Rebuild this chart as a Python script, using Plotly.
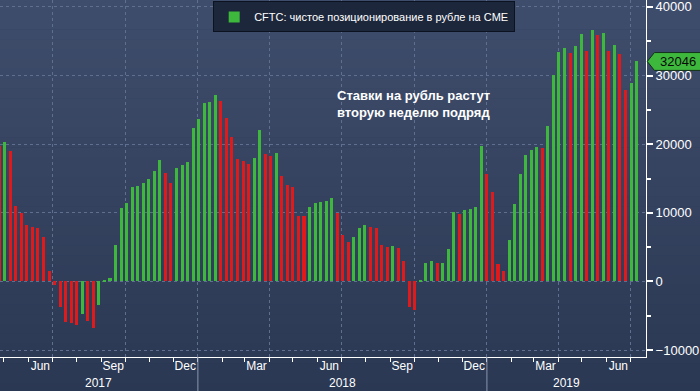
import plotly.graph_objects as go
import pandas as pd

# ---------------- data ----------------
week_start = "2017-04-25"
values = [19750, 20330, 19030, 11060, 10000, 8160, 7870, 7730, 6470, 1500,
          -530, -3670, -5840, -6090, -6330, -4730, -5700, -6710, -3430, 150,
          480, 5310, 10670, 11500, 13810, 13960, 14390, 14880, 16040, 17730,
          15840, 14390, 16570, 17000, 17440, 22360, 23670, 25990, 26130, 27150,
          26280, 23810, 21060, 17870, 17580, 17150, 18020, 22070, 18600, 18310,
          18740, 15410, 14100, 13810, 9610, 9470, 10920, 11500, 11640, 11790,
          12220, 9950, 6710, 5700, 6420, 7730, 8160, 7870, 7730, 5260,
          4970, 5120, 4830, 2950, -3670, -4150, 150, 2700, 2950, 2650,
          2700, 4690, 10050, 9760, 10340, 10530, 10820, 19800, 15700, 13090,
          2510, 1500, 5990, 11350, 15700, 18450, 19130, 19560, 19500, 22600,
          30140, 33470, 34050, 33330, 34340, 36080, 33620, 36660, 35940, 36230,
          33620, 34490, 33180, 27820, 28840, 32046]
dates = pd.date_range(week_start, periods=len(values), freq="7D")

month_labels = ["Jun", "Sep", "Dec", "Mar", "Jun", "Sep", "Dec", "Mar", "Jun"]
month_label_dates = ["2017-06-16", "2017-09-16", "2017-12-16", "2018-03-16",
                     "2018-06-16", "2018-09-16", "2018-12-16", "2019-03-16",
                     "2019-06-16"]
year_labels = ["2017", "2018", "2019"]
year_starts = ["2018-01-01", "2019-01-01"]
y_ticks = [-10000, 0, 10000, 20000, 30000, 40000]
legend_name = "CFTC: чистое позиционирование в рубле на CME"
note_text = "Ставки на рубль растут<br>вторую неделю подряд"

# ---------------- style ----------------
GREEN = "#3db83d"
RED = "#e01a1a"
GRID = "#5f6f8f"
X_RANGE = [pd.Timestamp("2017-04-26 02:00"), pd.Timestamp("2019-07-20 22:00")]
FONT = "Liberation Sans, Arial, sans-serif"

colors = [RED] + [GREEN if b > a else RED for a, b in zip(values[:-1], values[1:])]

fig = go.Figure()
fig.add_trace(go.Bar(x=dates, y=values, marker=dict(color=colors, line=dict(width=0)),
                     width=3.8 * 86400000, showlegend=False, hoverinfo="x+y"))
fig.add_trace(go.Scatter(x=[None], y=[None], mode="markers", name=legend_name,
                         marker=dict(symbol="square", size=11, color=GREEN)))
fig.add_trace(go.Scatter(x=[month_label_dates[0]], y=[None], xaxis="x2",
                         mode="markers", showlegend=False, hoverinfo="skip"))

# gradient background
shapes = []
n = 40
top = (63, 77, 108)
bot = (42, 56, 83)
y_lo, y_hi = -0.1, 1.0
for i in range(n):
    t = i / (n - 1)
    c = tuple(int(round(top[k] + (bot[k] - top[k]) * t)) for k in range(3))
    shapes.append(dict(type="rect", xref="paper", yref="paper", layer="below",
                       x0=-0.01, x1=1.1,
                       y1=y_hi - (y_hi - y_lo) * i / n,
                       y0=y_hi - (y_hi - y_lo) * (i + 1) / n - 0.001,
                       fillcolor="rgb(%d,%d,%d)" % c, line=dict(width=0)))

# year separators
for ys in year_starts:
    shapes.append(dict(type="line", xref="x", yref="paper", x0=ys, x1=ys,
                       y0=0, y1=-0.1, line=dict(color="#8b97ad", width=1)))

# last-value tag
last = values[-1]
h = 1300
shapes.append(dict(type="path", xref="paper", yref="y",
                   path=f"M 1.002,{last} L 1.013,{last + h} L 1.1,{last + h} L 1.1,{last - h} L 1.013,{last - h} Z",
                   fillcolor=GREEN, line=dict(color="#14301a", width=1)))

annotations = [
    dict(text=note_text, xref="paper", yref="paper", x=0.518, y=0.71,
         xanchor="left", yanchor="middle", align="left", showarrow=False,
         font=dict(family=FONT, size=13, color="white", weight="bold")),
    dict(text=str(last), xref="paper", yref="y", x=1.049, y=last,
         xanchor="center", yanchor="middle", showarrow=False,
         font=dict(family=FONT, size=13, color="#0a0a0a")),
]
year_bounds = [X_RANGE[0], pd.Timestamp(year_starts[0]), pd.Timestamp(year_starts[1]), X_RANGE[1]]
for lab, a, b in zip(year_labels, year_bounds[:-1], year_bounds[1:]):
    annotations.append(dict(text=lab, xref="x", yref="paper", x=a + (b - a) / 2,
                            y=-0.074, xanchor="center", yanchor="middle", showarrow=False,
                            font=dict(family=FONT, size=12, color="white")))

fig.update_layout(
    width=700, height=391,
    margin=dict(l=0, r=54, t=0, b=34, autoexpand=False),
    paper_bgcolor="rgb(42,56,83)", plot_bgcolor="rgba(0,0,0,0)",
    shapes=shapes, annotations=annotations,
    bargap=0, hovermode=False,
    font=dict(family=FONT, color="white", size=12),
    legend=dict(x=0.33, y=0.996, xanchor="left", yanchor="top",
                bgcolor="#1d273b", bordercolor="#0c1220", borderwidth=1,
                itemwidth=30,
                font=dict(family=FONT, size=11, color="white")),
    xaxis=dict(type="date", range=X_RANGE, showticklabels=False, automargin=False,
               tick0="2017-01-01", dtick="M3", ticks="outside", ticklen=4,
               tickcolor="white", showgrid=True, gridcolor=GRID, griddash="dot",
               gridwidth=1, showline=True, linecolor="white", linewidth=1,
               zeroline=False,
               minor=dict(dtick="M1", tick0="2017-01-01", ticks="outside",
                          ticklen=4, tickcolor="white", showgrid=False)),
    xaxis2=dict(type="date", range=X_RANGE, overlaying="x", side="bottom",
                automargin=False, ticklabeloverflow="allow",
                tickvals=month_label_dates, ticktext=month_labels, ticks="",
                showgrid=False, showline=False, zeroline=False,
                tickfont=dict(family=FONT, size=12, color="white")),
    yaxis=dict(side="right", range=[-11000, 41000], tickvals=y_ticks,
               automargin=False, ticklabeloverflow="allow",
               tickformat="d", ticks="outside", ticklen=6, tickwidth=2,
               tickcolor="white", showline=True, linecolor="white", linewidth=1,
               showgrid=True, gridcolor=GRID, griddash="dot", gridwidth=1,
               zeroline=False, tickfont=dict(family=FONT, size=13, color="white"),
               minor=dict(dtick=5000, tick0=0, ticks="outside", ticklen=4,
                          tickcolor="white", showgrid=False)),
)

fig.write_html("out.html", config={"displayModeBar": False},
               post_script="document.body.style.margin='0';document.body.style.padding='0';")
